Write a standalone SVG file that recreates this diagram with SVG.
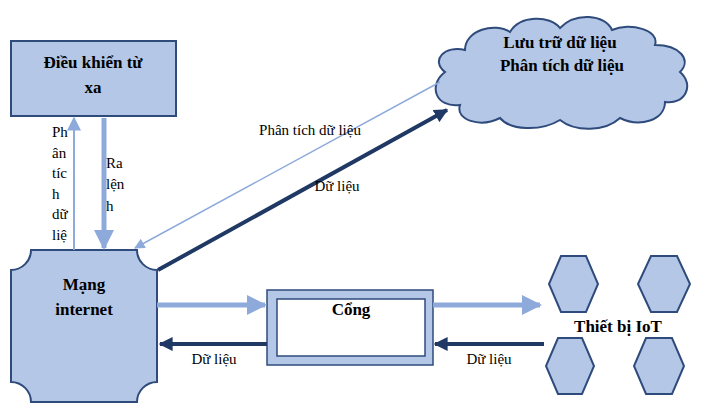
<svg xmlns="http://www.w3.org/2000/svg" width="712" height="410" viewBox="0 0 712 410">
<style>
.f{fill:#b4c7e7;stroke:#2f4b7c;stroke-width:2}
.b{font-family:"Liberation Serif",serif;font-weight:bold;font-size:17px;fill:#000}
.t{font-family:"Liberation Serif",serif;font-size:15px;fill:#000}
.l{stroke:#8eaadb;fill:none}
.d{stroke:#1f3864;fill:none}
</style>
<defs>
<marker id="al" viewBox="0 0 10 10" refX="9" refY="5" markerWidth="4" markerHeight="4" orient="auto" markerUnits="strokeWidth"><path d="M0,0L10,5L0,10z" fill="#8eaadb"/></marker>
<marker id="als" viewBox="0 0 10 10" refX="9" refY="5" markerWidth="9" markerHeight="7" orient="auto" markerUnits="strokeWidth"><path d="M0,0L10,5L0,10z" fill="#8eaadb"/></marker>
<marker id="ad" viewBox="0 0 10 10" refX="9" refY="5" markerWidth="3.5" markerHeight="3.5" orient="auto" markerUnits="strokeWidth"><path d="M0,0L10,5L0,10z" fill="#1f3864"/></marker>
</defs>
<g id="remote"><rect class="f" x="11" y="41" width="165" height="75"/><text class="b" x="93" y="68" text-anchor="middle">Điều khiển từ</text><text class="b" x="93" y="93" text-anchor="middle">xa</text></g>
<g id="internet"><path class="f" d="M31,250H137A20,20 0 0 0 157,270V382A20,20 0 0 0 137,402H31A20,20 0 0 0 11,382V270A20,20 0 0 0 31,250z"/><text class="b" x="84" y="290" text-anchor="middle">Mạng</text><text class="b" x="84" y="315" text-anchor="middle">internet</text></g>
<g id="cloud"><path class="f" d="M445,72C430,60 445,45 465,50C465,30 495,22 510,32C520,15 550,15 560,28C575,12 605,14 612,30C630,22 660,30 655,45C680,45 692,60 680,72C695,85 685,105 665,102C665,120 640,128 620,118C605,132 575,132 560,120C540,132 510,130 500,118C480,128 455,120 460,105C435,108 428,85 445,72z"/><text class="b" x="560" y="48" text-anchor="middle">Lưu trữ dữ liệu</text><text class="b" x="562" y="71" text-anchor="middle">Phân tích dữ liệu</text></g>
<g id="gateway"><rect x="267" y="290" width="166" height="75" fill="#b4c7e7" stroke="#2f4b7c" stroke-width="1.5"/><rect x="277" y="299" width="148" height="57" fill="#fff" stroke="#2f4b7c" stroke-width="1.5"/><text class="b" x="351" y="315" text-anchor="middle">Cổng</text></g>
<g id="iot">
<polygon class="f" points="561,256 586,256 598,284 586,312 561,312 549,284"/>
<polygon class="f" points="651,256 677,256 690,284 677,312 651,312 638,284"/>
<polygon class="f" points="558,338 582,338 594,366 582,394 558,394 546,366"/>
<polygon class="f" points="646,338 672,338 684,366 672,394 646,394 634,366"/>
<text class="b" x="618" y="332" text-anchor="middle">Thiết bị IoT</text></g>
<g id="connectors">
<line class="l" x1="74" y1="250" x2="74" y2="118" stroke-width="2" marker-end="url(#als)"/>
<line class="l" x1="104" y1="118" x2="104" y2="248" stroke-width="5" marker-end="url(#al)"/>
<line class="l" x1="440" y1="82" x2="135" y2="248" stroke-width="1.5" marker-end="url(#als)"/>
<line class="d" x1="158" y1="270" x2="447" y2="110" stroke-width="4" marker-end="url(#ad)"/>
<line class="l" x1="157" y1="305" x2="265" y2="305" stroke-width="5" marker-end="url(#al)"/>
<line class="d" x1="267" y1="344" x2="160" y2="344" stroke-width="4" marker-end="url(#ad)"/>
<line class="l" x1="433" y1="305" x2="540" y2="305" stroke-width="5" marker-end="url(#al)"/>
<line class="d" x1="544" y1="344" x2="435" y2="344" stroke-width="4" marker-end="url(#ad)"/>
</g>
<g id="labels">
<text class="t" x="52" y="137">Ph</text><text class="t" x="52" y="158">ân</text><text class="t" x="52" y="178">tíc</text><text class="t" x="52" y="199">h</text><text class="t" x="52" y="219">dữ</text><text class="t" x="52" y="240">liệ</text>
<text class="t" x="106" y="168">Ra</text><text class="t" x="106" y="189">lện</text><text class="t" x="106" y="211">h</text>
<text class="t" x="310" y="135" text-anchor="middle">Phân tích dữ liệu</text>
<text class="t" x="337" y="191" text-anchor="middle">Dữ liệu</text>
<text class="t" x="214" y="364" text-anchor="middle">Dữ liệu</text>
<text class="t" x="489" y="364" text-anchor="middle">Dữ liệu</text>
</g>
</svg>
